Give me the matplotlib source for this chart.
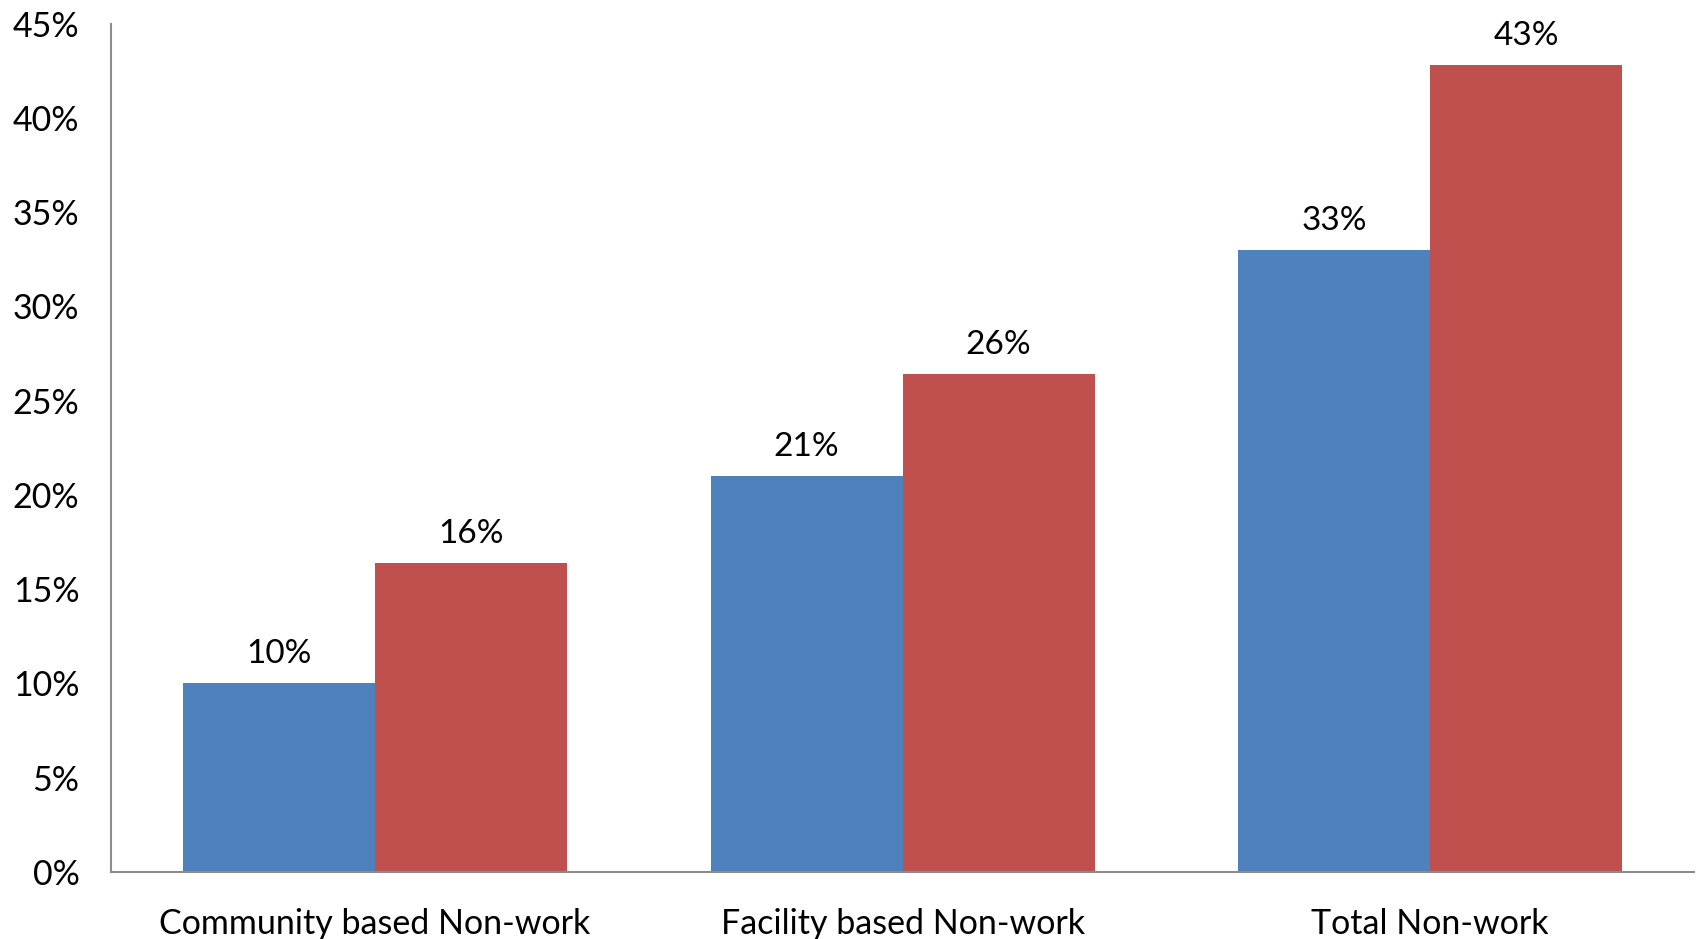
import matplotlib
matplotlib.use("Agg")
import matplotlib.pyplot as plt
import numpy as np

categories = ["Community based Non-work", "Facility based Non-work", "Total Non-work"]
series_a = [10.0, 21.0, 33.0]
series_b = [16.4, 26.4, 42.8]
labels_a = ["10%", "21%", "33%"]
labels_b = ["16%", "26%", "43%"]
yticks = [0, 5, 10, 15, 20, 25, 30, 35, 40, 45]
ytick_labels = ["0%", "5%", "10%", "15%", "20%", "25%", "30%", "35%", "40%", "45%"]

plt.rcParams['font.family'] = ['Lato', 'DejaVu Sans']

fig = plt.figure(figsize=(16.96, 9.39), dpi=100)
ax = fig.add_axes([0.0657, 0.0716, 0.933, 0.9031])

x = np.arange(len(categories))
w = 0.364
ba = ax.bar(x - w/2, series_a, width=w, color="#4F81BD", linewidth=0)
bb = ax.bar(x + w/2, series_b, width=w, color="#C0504D", linewidth=0)

for bars, labs in ((ba, labels_a), (bb, labels_b)):
    for rect, lab in zip(bars, labs):
        ax.annotate(lab, (rect.get_x() + rect.get_width()/2, rect.get_height()),
                    xytext=(0, 10), textcoords="offset points",
                    ha="center", va="bottom", fontsize=24, color="black")

ax.set_xlim(-0.5, 2.5)
ax.set_ylim(0, 45)
ax.set_yticks(yticks)
ax.set_yticklabels(ytick_labels, fontsize=24.5)
ax.set_xticks(x)
ax.set_xticklabels(categories, fontsize=24.5)
ax.tick_params(axis="both", length=0)
ax.tick_params(axis="y", pad=23)
ax.tick_params(axis="x", pad=26)
for s in ("top", "right"):
    ax.spines[s].set_visible(False)
for s in ("left", "bottom"):
    ax.spines[s].set_color("#8C8C8C")
    ax.spines[s].set_linewidth(1.5)

fig.savefig("out.png", dpi=100)
